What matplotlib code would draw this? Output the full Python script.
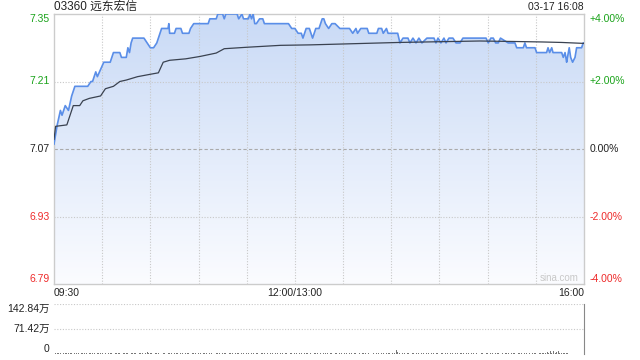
import numpy as np
import matplotlib
matplotlib.use('Agg')
import matplotlib.pyplot as plt
from matplotlib.colors import LinearSegmentedColormap

plt.rcParams['font.family'] = ['Liberation Sans', 'Noto Sans CJK SC', 'DejaVu Sans']

# Données (minutes de cotation depuis 09:30, prix HKD)
title = '03360 远东宏信'
stamp = '03-17 16:08'
prev_close = 7.07
y_ticks = [7.35, 7.21, 7.07, 6.93, 6.79]
pct_labels = ['+4.00%', '+2.00%', '0.00%', '-2.00%', '-4.00%']
x_labels = ['09:30', '12:00/13:00', '16:00']

price_t = [0, 1, 2, 4, 5, 7, 9, 11, 13, 21, 23, 24, 26, 27, 31, 35, 37, 41, 42, 45,
           46, 47, 48, 49, 56, 60, 62, 64, 66, 67, 71, 71.5, 72, 75, 76, 79, 80, 84, 85, 87,
           96, 97, 101, 102, 105, 106, 107, 114, 115, 117, 118, 121, 122, 123, 124, 125, 126, 128, 130, 131,
           146, 148, 150, 152, 154, 155, 157, 159, 161, 163, 165, 167, 168, 169, 171, 173, 175, 178, 184, 186,
           188, 189, 191, 195, 196, 201, 202, 204, 205, 207, 208, 214, 215.4, 217.3, 220.4, 221.6, 223.5, 225.4, 227.2, 229.1,
           232.2, 236.6, 237.8, 239.1, 240.9, 242.8, 244.1, 245.9, 248.4, 250.3, 252.8, 254.6, 269, 270.4, 272, 273.5, 275, 276.6, 278, 282.8,
           284, 287, 288.1, 292.2, 293.2, 294.2, 299.5, 300.5, 306.7, 307.6, 308.6, 309.9, 310.7, 311.6, 316.1, 317.1, 318.2, 319.2, 319.7, 320.8,
           321.7, 322.9, 324.4, 325.4, 328.5, 329.5, 330]
price = [7.08, 7.10, 7.12, 7.15, 7.14, 7.16, 7.15, 7.18, 7.20, 7.20, 7.21, 7.21, 7.23, 7.22, 7.25, 7.25, 7.27, 7.27, 7.26, 7.26,
         7.28, 7.27, 7.29, 7.30, 7.30, 7.28, 7.28, 7.29, 7.31, 7.32, 7.32, 7.33, 7.31, 7.31, 7.32, 7.32, 7.31, 7.31, 7.32, 7.33,
         7.33, 7.34, 7.34, 7.35, 7.35, 7.34, 7.35, 7.35, 7.34, 7.35, 7.34, 7.34, 7.35, 7.34, 7.35, 7.33, 7.33, 7.34, 7.34, 7.33,
         7.33, 7.32, 7.32, 7.31, 7.31, 7.30, 7.32, 7.32, 7.30, 7.32, 7.32, 7.34, 7.34, 7.33, 7.32, 7.33, 7.33, 7.32, 7.32, 7.31,
         7.32, 7.31, 7.32, 7.32, 7.31, 7.31, 7.32, 7.32, 7.31, 7.32, 7.31, 7.31, 7.29, 7.30, 7.30, 7.29, 7.30, 7.29, 7.30, 7.29,
         7.30, 7.30, 7.29, 7.30, 7.29, 7.30, 7.29, 7.30, 7.30, 7.29, 7.29, 7.30, 7.30, 7.29, 7.30, 7.30, 7.29, 7.29, 7.30, 7.29,
         7.29, 7.29, 7.28, 7.28, 7.29, 7.28, 7.28, 7.27, 7.27, 7.28, 7.27, 7.28, 7.27, 7.27, 7.27, 7.26, 7.27, 7.25, 7.26, 7.28,
         7.26, 7.25, 7.26, 7.28, 7.28, 7.29, 7.29]

avg_t = [0, 1, 8, 12, 16, 18, 22, 29, 32, 37, 41, 45, 52, 60, 65, 68, 72, 82, 91, 101,
         106, 120, 141, 160, 215, 265, 286, 304, 316, 330]
avg = [7.09, 7.117, 7.12, 7.16, 7.16, 7.17, 7.175, 7.18, 7.195, 7.20, 7.21, 7.213, 7.22, 7.225, 7.228, 7.25, 7.254, 7.257, 7.262, 7.269,
       7.278, 7.281, 7.285, 7.286, 7.291, 7.294, 7.293, 7.292, 7.291, 7.289]

# volume par minute, en 万 actions
vol = [3, 2, 4, 2, 3, 1, 2, 3, 2, 4, 2, 3, 1, 2, 2, 3, 1, 4, 2, 3, 2, 1, 3, 2, 4, 2, 1, 3, 2, 2,
       3, 1, 2, 4, 2, 3, 2, 1, 2, 3, 2, 4, 1, 2, 3, 2, 2, 1, 3, 2, 4, 3, 1, 2, 2, 3, 1, 2, 5, 2,
       3, 2, 1, 4, 2, 3, 2, 1, 2, 3, 1, 2, 4, 2, 1, 3, 2, 2, 1, 3, 2, 1, 2, 3, 2, 1, 2, 2, 3, 1,
       2, 3, 1, 2, 2, 4, 1, 2, 3, 2, 1, 2, 2, 3, 1, 2, 4, 2, 1, 2, 3, 2, 1, 2, 2, 3, 1, 2, 2, 1,
       3, 2, 1, 2, 2, 1, 3, 2, 1, 2, 2, 3, 1, 2, 1, 2, 3, 1, 2, 2, 1, 2, 3, 1, 2, 2, 1, 3, 2, 1,
       2, 2, 1, 3, 2, 1, 2, 2, 3, 1, 2, 1, 2, 2, 3, 1, 2, 1, 2, 3, 2, 1, 2, 2, 1, 3, 2, 1, 2, 2,
       1, 2, 3, 1, 2, 2, 1, 2, 3, 1, 2, 1, 2, 2, 3, 1, 2, 1, 2, 2, 1, 3, 2, 1, 2, 2, 1, 2, 3, 2,
       1, 2, 4, 12, 6, 2, 1, 3, 2, 1, 2, 2, 1, 3, 2, 1, 2, 2, 1, 2, 3, 1, 2, 2, 1, 2, 3, 1, 2, 2,
       1, 3, 2, 1, 2, 2, 1, 2, 3, 1, 2, 2, 1, 2, 3, 2, 1, 2, 2, 1, 3, 2, 1, 2, 2, 1, 2, 3, 1, 2,
       2, 1, 3, 2, 1, 2, 2, 3, 1, 2, 1, 2, 2, 3, 1, 2, 4, 2, 1, 3, 2, 2, 1, 3, 2, 1, 2, 4, 2, 3,
       2, 1, 3, 2, 4, 2, 3, 5, 2, 9, 4, 8, 3, 6, 9, 4, 2, 3, 2, 3, 2]
vol_max = 142.84
vol_labels = ['142.84万', '71.42万', '0']

green = '#1aa31a'
red = '#ee2a2a'
grid_c = '#c8c8c8'

fig = plt.figure(figsize=(6.4, 3.6), dpi=100)
ax = fig.add_axes([54 / 640, 1 - 284 / 360, 530 / 640, 270 / 360])
axv = fig.add_axes([54 / 640, 1 - 354 / 360, 530 / 640, 50 / 360])

ax.set_xlim(0, 330)
ax.set_ylim(y_ticks[-1], y_ticks[0])

# remplissage en dégradé sous la courbe
cmap = LinearSegmentedColormap.from_list('fond', ['#fbfcff', '#c9daf6'])
grad = np.linspace(0, 1, 256).reshape(-1, 1)
poly = ax.fill_between(price_t, price, y_ticks[-1], color='none', lw=0)
img = ax.imshow(grad, cmap=cmap, aspect='auto', origin='lower',
                extent=[0, 330, y_ticks[-1], y_ticks[0]], zorder=1)
img.set_clip_path(poly.get_paths()[0], transform=ax.transData)

ax.plot(price_t, price, color='#5a8ee8', lw=1.2, zorder=3)
ax.plot(avg_t, avg, color='#3a4250', lw=0.9, zorder=4)

# grille
for m in range(30, 330, 30):
    ax.axvline(m, color=grid_c, lw=0.8, ls=(0, (1, 1.5)), zorder=2)
for y in [7.21, 6.93]:
    ax.axhline(y, color=grid_c, lw=0.8, ls=(0, (1, 1.5)), zorder=2)
ax.axhline(prev_close, color='#aaaaaa', lw=0.8, ls=(0, (3, 2)), zorder=2)

ax.set_xticks([])
ax.set_yticks([])
for s in ax.spines.values():
    s.set_color('#cccccc')
    s.set_linewidth(1)

cols = [green, green, '#222222', red, red]
vas = ['top', 'center', 'center', 'center', 'bottom']
for y, lab, c, va in zip(y_ticks, pct_labels, cols, vas):
    ax.text(-0.008, y, f'{y:.2f}', transform=ax.get_yaxis_transform(), ha='right', va=va,
            color=c, fontsize=7.5)
    ax.text(1.011, y, lab, transform=ax.get_yaxis_transform(), ha='left', va=va,
            color=c, fontsize=7.5)

ax.text(0, 1 + 7 / 270, title, transform=ax.transAxes, ha='left', va='center', fontsize=8.5, color='#222222')
ax.text(1, 1 + 7 / 270, stamp, transform=ax.transAxes, ha='right', va='center', fontsize=7.5, color='#222222')
for x, lab, ha in zip([0, 150, 330], x_labels, ['left', 'center', 'right']):
    ax.text(x, -0.015, lab, transform=ax.get_xaxis_transform(), ha=ha, va='top', fontsize=7.5, color='#222222')
ax.text(0.99, 0.005, 'sina.com', transform=ax.transAxes, ha='right', va='bottom', fontsize=7, color='#c8c8c8')

# volume
axv.set_xlim(0, 330)
axv.set_ylim(0, vol_max)
axv.bar(np.arange(len(vol)), vol, width=0.6, color='#777777', zorder=3)
axv.axhline(vol_max / 2, color=grid_c, lw=0.8, ls=(0, (1, 1.5)))
axv.axhline(vol_max, color=grid_c, lw=0.8, ls=(0, (1, 1.5)))
axv.set_xticks([])
axv.set_yticks([])
axv.spines['top'].set_visible(False)
axv.spines['bottom'].set_visible(False)
axv.spines['left'].set_visible(False)
axv.spines['right'].set_color('#888888')
for y, lab, va in zip([vol_max, vol_max / 2, 0], vol_labels, ['top', 'center', 'bottom']):
    axv.text(-0.008, y, lab, transform=axv.get_yaxis_transform(), ha='right',
             va=va, fontsize=7.5, color='#222222')

fig.savefig('out.png', dpi=100)
